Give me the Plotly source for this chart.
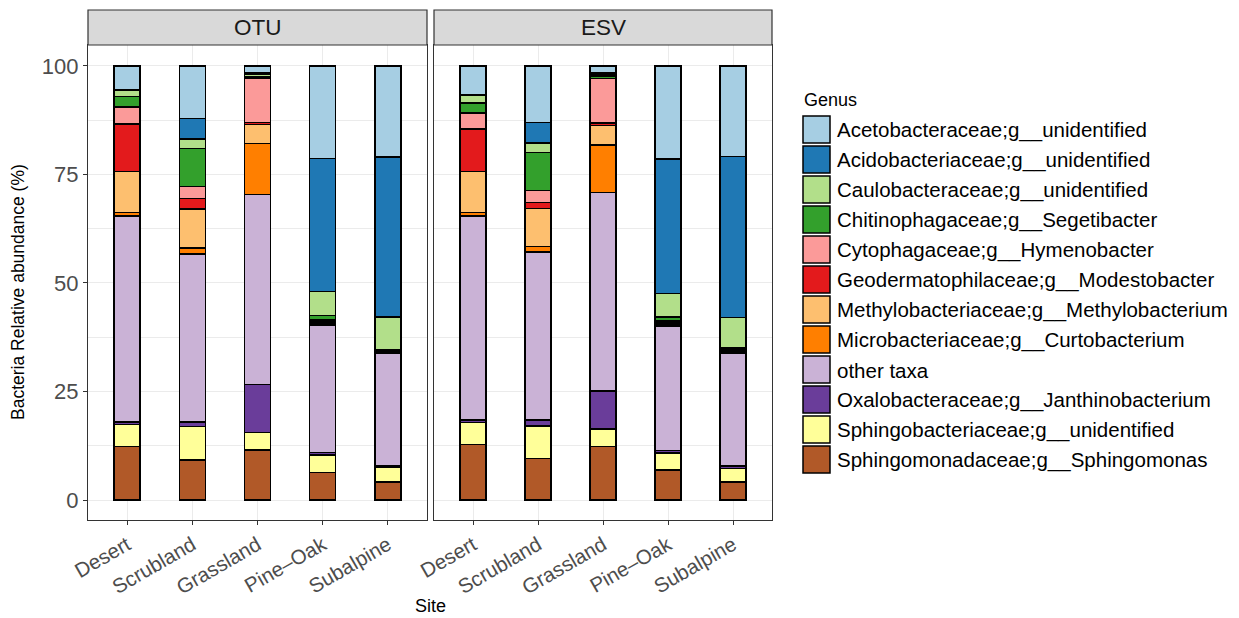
import plotly.graph_objects as go

# ---------------- data ----------------
sites = ["Desert", "Scrubland", "Grassland", "Pine–Oak", "Subalpine"]

genera = [
    "Acetobacteraceae;g__unidentified",
    "Acidobacteriaceae;g__unidentified",
    "Caulobacteraceae;g__unidentified",
    "Chitinophagaceae;g__Segetibacter",
    "Cytophagaceae;g__Hymenobacter",
    "Geodermatophilaceae;g__Modestobacter",
    "Methylobacteriaceae;g__Methylobacterium",
    "Microbacteriaceae;g__Curtobacterium",
    "other taxa",
    "Oxalobacteraceae;g__Janthinobacterium",
    "Sphingobacteriaceae;g__unidentified",
    "Sphingomonadaceae;g__Sphingomonas",
]

colors = ["#A6CEE3", "#1F78B4", "#B2DF8A", "#33A02C", "#FB9A99", "#E31A1C",
          "#FDBF6F", "#FF7F00", "#CAB2D6", "#6A3D9A", "#FFFF99", "#B15928"]

# rows follow `genera`, columns follow `sites`
otu_values = [
    [5.5, 12.1, 1.7, 21.3, 21.0],
    [0.1, 4.7, 0.3, 30.7, 36.8],
    [1.5, 2.2, 0.4, 5.5, 7.6],
    [2.4, 8.8, 0.4, 0.9, 0.2],
    [3.9, 2.8, 10.3, 0.3, 0.2],
    [10.9, 2.4, 0.4, 0.3, 0.1],
    [9.5, 9.0, 4.4, 0.4, 0.2],
    [0.8, 1.3, 11.7, 0.3, 0.1],
    [47.4, 38.7, 43.8, 29.4, 26.0],
    [0.6, 1.1, 11.1, 0.5, 0.3],
    [5.1, 7.7, 4.0, 4.1, 3.4],
    [12.3, 9.2, 11.5, 6.3, 4.1],
]

esv_values = [
    [6.7, 13.1, 1.7, 21.5, 20.9],
    [0.1, 4.7, 0.4, 30.9, 37.1],
    [1.8, 2.2, 0.4, 5.5, 7.0],
    [2.3, 8.7, 0.4, 0.8, 0.3],
    [3.7, 2.8, 10.3, 0.3, 0.2],
    [9.7, 1.4, 0.5, 0.3, 0.2],
    [9.5, 8.7, 4.5, 0.3, 0.2],
    [0.8, 1.3, 11.0, 0.3, 0.2],
    [47.0, 38.7, 45.7, 28.7, 26.1],
    [0.6, 1.3, 8.7, 0.6, 0.5],
    [5.0, 7.5, 4.1, 3.9, 3.1],
    [12.8, 9.6, 12.3, 6.9, 4.2],
]

panels = ["OTU", "ESV"]
y_ticks = [0, 25, 50, 75, 100]

# ---------------- layout helpers ----------------
W, H = 1239, 618
OFF = 8  # page body margin
FONT = "Liberation Sans, Arial, Helvetica, sans-serif"


def px(x):
    return (x - OFF) / W


def py(y):
    return 1 - (y - OFF) / H


panel_x = [(88, 427), (434, 772)]
panel_top, panel_bottom, strip_top = 45, 520, 10

fig = go.Figure()

# stack bottom-up: last genus in the list sits at the bottom
for p_idx, values in enumerate([otu_values, esv_values]):
    xa = "x" if p_idx == 0 else "x2"
    ya = "y" if p_idx == 0 else "y2"
    for g_idx in reversed(range(len(genera))):
        fig.add_trace(go.Bar(
            x=sites, y=values[g_idx], name=genera[g_idx],
            marker=dict(color=colors[g_idx], line=dict(color="black", width=1.5)),
            width=0.4, xaxis=xa, yaxis=ya, showlegend=False,
            legendgroup=genera[g_idx],
        ))

axis_common = dict(
    showline=True, mirror=True, linecolor="#333333", linewidth=1.2,
    showgrid=True, gridcolor="#EBEBEB", gridwidth=1.2, zeroline=False,
    automargin=False,
)

xaxis_common = dict(
    type="category", range=[-0.6, 4.6], tickangle=-30,
    ticks="outside", ticklen=4, tickcolor="#333333", tickwidth=1.2,
    tickfont=dict(size=20.5, color="#4D4D4D", family=FONT),
)

Y_RANGE = [-4.6, 104.8]

fig.update_layout(
    width=W, height=H, margin=dict(l=0, r=0, t=0, b=0, autoexpand=False),
    paper_bgcolor="white", plot_bgcolor="white",
    barmode="stack", showlegend=False,
    font=dict(family=FONT, color="black"),
    xaxis=dict(domain=[px(panel_x[0][0]), px(panel_x[0][1])], anchor="y",
               **xaxis_common, **axis_common),
    xaxis2=dict(domain=[px(panel_x[1][0]), px(panel_x[1][1])], anchor="y2",
                **xaxis_common, **axis_common),
    yaxis=dict(domain=[py(panel_bottom), py(panel_top)], anchor="x",
               range=Y_RANGE, tickvals=y_ticks, ticks="outside", ticklen=4,
               tickcolor="#333333", tickwidth=1.2,
               tickfont=dict(size=22, color="#4D4D4D", family=FONT),
               minor=dict(tickvals=[12.5, 37.5, 62.5, 87.5], showgrid=True,
                          gridcolor="#EBEBEB", gridwidth=0.6, ticks=""),
               **axis_common),
    yaxis2=dict(domain=[py(panel_bottom), py(panel_top)], anchor="x2",
                matches="y", range=Y_RANGE, tickvals=y_ticks, ticks="",
                showticklabels=False,
                minor=dict(tickvals=[12.5, 37.5, 62.5, 87.5], showgrid=True,
                           gridcolor="#EBEBEB", gridwidth=0.6, ticks=""),
                **axis_common),
)

shapes = []
annotations = []

# facet strips
for (x0, x1), label in zip(panel_x, panels):
    shapes.append(dict(type="rect", xref="paper", yref="paper",
                       x0=px(x0), x1=px(x1), y0=py(panel_top), y1=py(strip_top),
                       fillcolor="#D9D9D9", line=dict(color="#333333", width=1.2),
                       layer="above"))
    annotations.append(dict(text=label, xref="paper", yref="paper",
                            x=px((x0 + x1) / 2), y=py((panel_top + strip_top) / 2),
                            showarrow=False, xanchor="center", yanchor="middle",
                            font=dict(size=22.5, color="#1A1A1A", family=FONT)))

# axis titles
annotations.append(dict(text="Bacteria Relative abundance (%)", xref="paper", yref="paper",
                        x=px(18), y=py(292), textangle=-90, showarrow=False,
                        xanchor="center", yanchor="middle",
                        font=dict(size=17.5, color="black", family=FONT)))
annotations.append(dict(text="Site", xref="paper", yref="paper",
                        x=px(430), y=py(606), showarrow=False,
                        xanchor="center", yanchor="middle",
                        font=dict(size=18, color="black", family=FONT)))

# legend (drawn by hand to get ggplot-sized keys)
annotations.append(dict(text="Genus", xref="paper", yref="paper",
                        x=px(802), y=py(100), showarrow=False,
                        xanchor="left", yanchor="middle",
                        font=dict(size=18, color="black", family=FONT)))
for i, (g, c) in enumerate(zip(genera, colors)):
    top = 116 + 30 * i
    shapes.append(dict(type="rect", xref="paper", yref="paper",
                       x0=px(803), x1=px(830), y0=py(top + 27), y1=py(top),
                       fillcolor=c, line=dict(color="black", width=1.5)))
    annotations.append(dict(text=g, xref="paper", yref="paper",
                            x=px(835), y=py(top + 14), showarrow=False,
                            xanchor="left", yanchor="middle",
                            font=dict(size=20.5, color="black", family=FONT)))

fig.update_layout(shapes=shapes, annotations=annotations)

fig.write_html("out.html")
